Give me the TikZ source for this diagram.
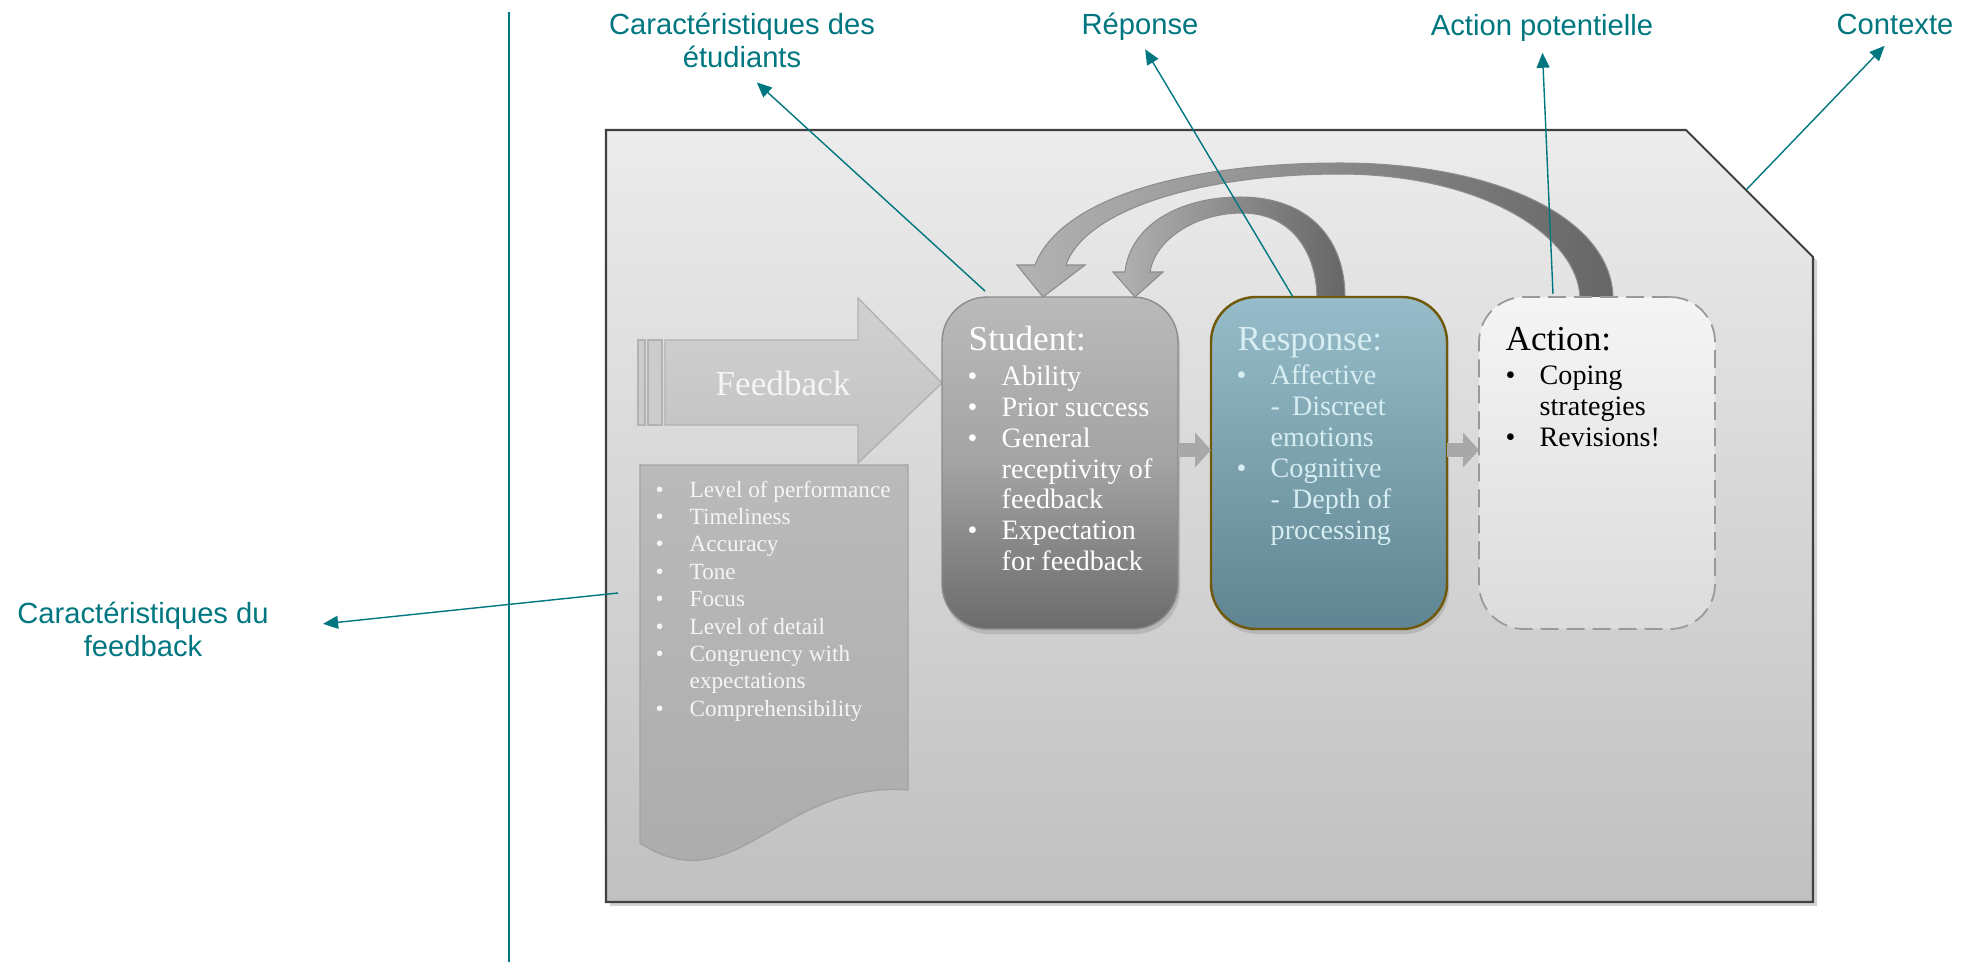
\documentclass[tikz,border=0pt]{standalone}
\usepackage{fontspec}
\setmainfont{Liberation Serif}
\newfontfamily\labfont{Liberation Sans}
\usetikzlibrary{arrows.meta,shadows}

\definecolor{labteal}{RGB}{0,118,128}
\definecolor{panelTop}{RGB}{236,236,236}
\definecolor{panelBot}{RGB}{192,192,192}
\definecolor{respTop}{RGB}{152,189,202}
\definecolor{respBot}{RGB}{94,133,145}
\definecolor{respLine}{RGB}{112,90,10}
\definecolor{respText}{RGB}{214,237,242}

\newcommand{\bul}{\makebox[3.4mm][l]{\textbullet}}
\newcommand{\ind}{\hspace*{3.4mm}}

\tikzset{
  lab/.style={font=\labfont\fontsize{8.3}{9.6}\selectfont, text=labteal, inner sep=0pt, align=center},
  lead/.style={draw=labteal, line width=0.4pt, -{Triangle[length=1.5mm,width=1.3mm]}},
  card/.style={rectangle, rounded corners=4.5mm, inner sep=0pt, outer sep=0pt,
    minimum width=23.6mm, minimum height=33.2mm},
  tit/.style={font=\fontsize{10}{12}\selectfont, inner sep=0pt},
  itm/.style={font=\fontsize{8}{8.8}\selectfont, align=left, inner sep=0pt},
  fbitm/.style={font=\fontsize{6.6}{7.8}\selectfont, align=left, inner sep=0pt, text=black!4},
  link/.style={draw=black!34, line width=1.4mm, -{Triangle[length=1.6mm,width=3.4mm]}}
}

\begin{document}
\begin{tikzpicture}[x=0.1mm, y=-0.1mm]
\useasboundingbox (0,0) rectangle (1978,962);
% context panel
\path [draw=black!75, line width=0.6pt, top color=panelTop, bottom color=panelBot,
  drop shadow={shadow xshift=0.4mm, shadow yshift=-0.4mm, opacity=0.35}]
  (606,130) -- (1686,130) -- (1813,257) -- (1813,902) -- (606,902) -- cycle;
\coordinate (ctx) at (1746,190);
\path [draw=labteal, line width=0.6pt] (509,12) -- (509,962);

% feedback arrow and its list
\path [draw=black!30, fill=black!20] (638,340) rectangle (645,425);
\path [draw=black!30, fill=black!20] (648,340) rectangle (662,425);
\path [draw=black!30, top color=black!18, bottom color=black!24]
  (665,340) -- (858,340) -- (858,298) -- (942,383) -- (858,463) -- (858,425) -- (665,425) -- cycle;
\node [tit, text=black!4] (fbT) at (783,383) {Feedback};
\path [draw=black!36, top color=black!27, bottom color=black!33]
  (640,465) -- (908,465) -- (908,790) .. controls (780,780) and (735,905) .. (640,843) -- cycle;
\node [fbitm, anchor=north west] (fbL) at (655,480)
  {\bul Level of performance\\\bul Timeliness\\\bul Accuracy\\\bul Tone\\\bul Focus\\
   \bul Level of detail\\\bul Congruency with\\\ind expectations\\\bul Comprehensibility};
\coordinate (fbTail) at (618,593);

% feedback loops
\path [draw=black!45, line width=0.3pt, left color=black!30, right color=black!60]
  (1035,265) .. controls (1060,200) and (1180,163) .. (1340,163)
  .. controls (1500,163) and (1612,220) .. (1613,298) -- (1580,298)
  .. controls (1578,235) and (1480,174) .. (1340,174)
  .. controls (1200,174) and (1085,210) .. (1066,265)
  -- (1085,265) -- (1043,297) -- (1017,265) -- cycle;
\path [draw=black!45, line width=0.3pt, left color=black!30, right color=black!60]
  (1125,272) .. controls (1130,225) and (1180,197) .. (1240,197)
  .. controls (1310,197) and (1345,240) .. (1345,297) -- (1317,297)
  .. controls (1316,250) and (1290,213) .. (1242,213)
  .. controls (1195,213) and (1155,240) .. (1150,272)
  -- (1163,272) -- (1135,297) -- (1113,272) -- cycle;

% boxes
\node [card, draw=black!45, top color=black!27, bottom color=black!58, middle color=black!36,
  drop shadow={opacity=0.3, shadow xshift=0.2mm, shadow yshift=-0.5mm}] (stu) at (1060,463) {};
\node [card, draw=respLine, line width=0.7pt, top color=respTop, bottom color=respBot,
  drop shadow={opacity=0.3, shadow xshift=0.2mm, shadow yshift=-0.5mm}] (resp) at (1329,463) {};
\node [card, draw=black!40, line width=0.5pt, dash pattern=on 1.8mm off 0.8mm,
  top color=black!4, bottom color=black!14] (act) at (1597,463) {};
\path [link] ([yshift=1.3mm]stu.east) -- ([yshift=1.3mm]resp.west);
\path [link] ([yshift=1.3mm]resp.east) -- ([yshift=1.3mm]act.west);

\node [tit, anchor=base west, text=white] (stuT) at (968,350) {Student:};
\node [itm, anchor=north west, text=white] (stuL) at (967,365)
  {\bul Ability\\\bul Prior success\\\bul General\\\ind receptivity of\\\ind feedback\\
   \bul Expectation\\\ind for feedback};
\node [tit, anchor=base west, text=respText] (respT) at (1237,350) {Response:};
\node [itm, anchor=north west, text=respText] (respL) at (1236,364)
  {\bul Affective\\\ind -\hspace{1.2mm}Discreet\\\ind emotions\\\bul Cognitive\\
   \ind -\hspace{1.2mm}Depth of\\\ind processing};
\node [tit, anchor=base west, text=black] (actT) at (1505,350) {Action:};
\node [itm, anchor=north west, text=black] (actL) at (1505,365)
  {\bul Coping\\\ind strategies\\\bul Revisions!};

% labels
\node [lab, anchor=north] (labStu) at (742,12) {Caractéristiques des\\étudiants};
\node [lab, anchor=base] (labResp) at (1140,34) {Réponse};
\node [lab, anchor=base] (labAct) at (1542,35) {Action potentielle};
\node [lab, anchor=base] (labCtx) at (1895,34) {Contexte};
\node [lab, anchor=north] (labFb) at (143,601) {Caractéristiques du\\feedback};
\path [lead, shorten >=2mm] ([shift={(43,-6)}]stu.north west) -- (labStu.south);
\path [lead, shorten >=1mm] ([shift={(-36,0)}]resp.north) -- (labResp.south);
\path [lead, shorten >=1.1mm] ([shift={(-44,-3)}]act.north) -- (labAct.south);
\path [lead, shorten >=1.5mm] (ctx) -- (labCtx.south);
\path [lead, shorten >=5.4mm] (fbTail) -- (labFb.east);
\end{tikzpicture}
\end{document}
